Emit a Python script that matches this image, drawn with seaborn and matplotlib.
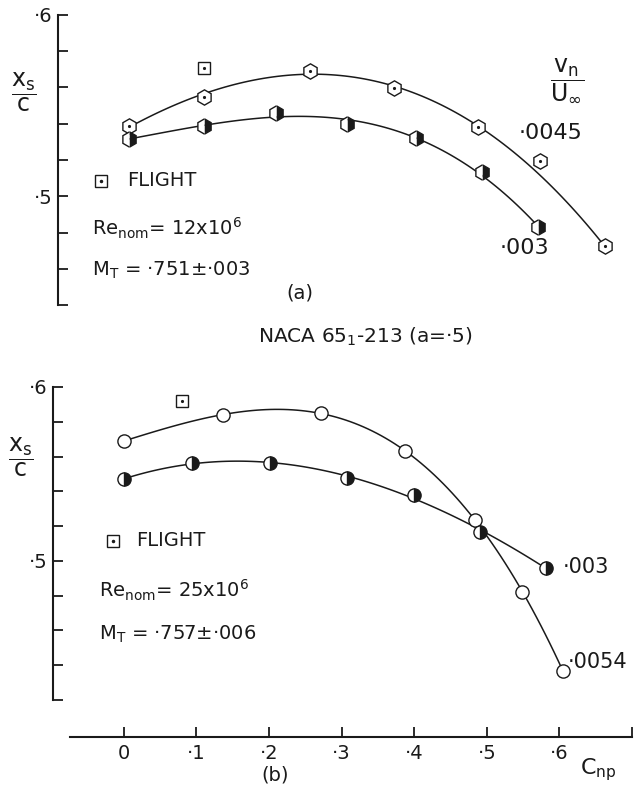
import matplotlib
matplotlib.use("Agg")
import matplotlib.pyplot as plt
import seaborn as sns
import pandas as pd

sns.set_theme(style="white")
plt.rcParams['font.family'] = ['DejaVu Sans']
plt.rcParams['mathtext.default'] = 'regular'
plt.rcParams['text.color'] = 'k'
plt.rcParams['xtick.color'] = 'k'
plt.rcParams['ytick.color'] = 'k'

# panel (a): x_s/c against C_np
a_x_045 = [0.0, 0.103, 0.249, 0.365, 0.481, 0.567, 0.656]
a_y_045 = [0.5387, 0.5547, 0.5690, 0.5597, 0.5380, 0.5193, 0.4724]
a_on_curve_045 = [True, True, True, False, True, False, True]
a_x_003 = [0.0, 0.103, 0.203, 0.300, 0.396, 0.486, 0.563]
a_y_003 = [0.5315, 0.5387, 0.5459, 0.5398, 0.5320, 0.5133, 0.4829]
a_flight_x = [0.103]
a_flight_y = [0.5707]

# panel (b)
b_x_054 = [0.0, 0.136, 0.272, 0.387, 0.484, 0.549, 0.605]
b_y_054 = [0.5690, 0.5839, 0.5850, 0.5632, 0.5235, 0.4820, 0.4367]
b_x_003 = [0.0, 0.094, 0.201, 0.307, 0.400, 0.490, 0.582]
b_y_003 = [0.5470, 0.5563, 0.5563, 0.5477, 0.5379, 0.5166, 0.4959]
b_flight_x = [0.080]
b_flight_y = [0.592]

x_ticks = [0, 0.1, 0.2, 0.3, 0.4, 0.5, 0.6, 0.7]
x_ticklabels = ["0", "·1", "·2", "·3", "·4", "·5", "·6", ""]

W, H = 642, 790
fig = plt.figure(figsize=(6.42, 7.90), dpi=100)
fig.patch.set_facecolor("white")

def fx(px):
    return px / W

def fy(py):
    return 1 - py / H

xlim = (-0.0977, 0.7)
ax1 = fig.add_axes([fx(58), fy(305), 579 / W, 290 / H])
ax2 = fig.add_axes([fx(53), fy(700), 579 / W, 313 / H])

mk = dict(linestyle="", markersize=9.5, mec="k", mew=1.0, legend=False)
dot = dict(marker=".", markersize=3, linestyle="", color="k", mec="k", legend=False)

def fit(ax, x, y, order):
    sns.regplot(x=x, y=y, order=order, ci=None, scatter=False, truncate=True,
                color="k", line_kws=dict(lw=1.1), ax=ax)

def style_axis(ax, ylo):
    ax.set_facecolor("none")
    ax.set_xlim(*xlim)
    ax.set_ylim(ylo, 0.6)
    for s in ["top", "right"]:
        ax.spines[s].set_visible(False)
    ax.spines["left"].set_linewidth(1.5)
    ax.spines["left"].set_color("k")
    ax.set_yticks([0.5, 0.6])
    ax.set_yticklabels(["·5", "·6"], fontsize=14)
    ax.set_yticks([v / 100 for v in range(int(round(ylo * 100)), 61, 2)], minor=True)
    ax.tick_params(axis="y", which="both", direction="in", length=7, width=1.3,
                   color="k", pad=4, left=True)
    ax.set_xlabel("")
    ax.set_ylabel("")

# ---- panel (a)
df = pd.DataFrame({"x": a_x_045, "y": a_y_045, "on": a_on_curve_045})
fit(ax1, df[df.on].x, df[df.on].y, 3)
fit(ax1, a_x_003, a_y_003, 3)
sns.lineplot(x=a_x_045, y=a_y_045, marker="h", mfc="white", ax=ax1, **dict(mk, markersize=11))
sns.lineplot(x=a_x_045, y=a_y_045, ax=ax1, **dot)
sns.lineplot(x=a_x_003, y=a_y_003, marker="h", mfc="k", fillstyle="right", mfcalt="white",
             ax=ax1, **dict(mk, markersize=11))
sns.lineplot(x=a_flight_x, y=a_flight_y, marker="s", mfc="white", ax=ax1, **dict(mk, markersize=8.5))
sns.lineplot(x=a_flight_x, y=a_flight_y, ax=ax1, **dot)
style_axis(ax1, 0.44)
ax1.spines["bottom"].set_visible(False)
ax1.set_xticks([])

# ---- panel (b)
fit(ax2, b_x_054, b_y_054, 3)
fit(ax2, b_x_003, b_y_003, 3)
sns.lineplot(x=b_x_054, y=b_y_054, marker="o", mfc="white", ax=ax2, **mk)
sns.lineplot(x=b_x_003, y=b_y_003, marker="o", mfc="k", fillstyle="right", mfcalt="white", ax=ax2, **mk)
sns.lineplot(x=b_flight_x, y=b_flight_y, marker="s", mfc="white", ax=ax2, **dict(mk, markersize=8.5))
sns.lineplot(x=b_flight_x, y=b_flight_y, ax=ax2, **dot)
style_axis(ax2, 0.42)
ax2.spines["bottom"].set_position(("outward", 26.6))
ax2.spines["bottom"].set_bounds(-0.074, 0.7)
ax2.spines["bottom"].set_linewidth(1.5)
ax2.spines["bottom"].set_color("k")
ax2.set_xticks(x_ticks)
ax2.set_xticklabels(x_ticklabels, fontsize=14)
ax2.tick_params(axis="x", direction="in", length=7, width=1.3, color="k", pad=5, bottom=True)

# ---- annotations
fs = 14
ylab = r"$\dfrac{x_s}{c}$"
fig.text(fx(24), fy(92), ylab, fontsize=17, ha="center", va="center")
fig.text(fx(21), fy(457), ylab, fontsize=17, ha="center", va="center")

for (mx, my, tx) in [(101, 181, 127), (113, 541, 136)]:
    fig.lines.append(plt.Line2D([fx(mx)], [fy(my)], marker="s", markersize=8, mfc="white",
                                mec="k", mew=1.0, transform=fig.transFigure))
    fig.lines.append(plt.Line2D([fx(mx)], [fy(my)], marker=".", markersize=3, color="k",
                                transform=fig.transFigure))
    fig.text(fx(tx), fy(my), "FLIGHT", fontsize=14, ha="left", va="center")

fig.text(fx(92), fy(228), r"Re$_{nom}$= 12x10$^6$", fontsize=fs, ha="left", va="center")
fig.text(fx(92), fy(270), r"M$_T$ = ·751±·003", fontsize=fs, ha="left", va="center")
fig.text(fx(300), fy(293), "(a)", fontsize=fs, ha="center", va="center")
fig.text(fx(567), fy(80), r"$\dfrac{v_n}{U_\infty}$", fontsize=17, ha="center", va="center")
fig.text(fx(519), fy(133), "·0045", fontsize=fs + 2, ha="left", va="center")
fig.text(fx(500), fy(248), "·003", fontsize=fs + 2, ha="left", va="center")

fig.text(fx(365), fy(337), r"NACA 65$_1$-213 (a=·5)", fontsize=14.5, ha="center", va="center")
fig.text(fx(99), fy(590), r"Re$_{nom}$= 25x10$^6$", fontsize=fs, ha="left", va="center")
fig.text(fx(99), fy(634), r"M$_T$ = ·757±·006", fontsize=fs, ha="left", va="center")
fig.text(fx(563), fy(567), "·003", fontsize=fs + 1, ha="left", va="center")
fig.text(fx(568), fy(662), "·0054", fontsize=fs + 1, ha="left", va="center")
fig.text(fx(275), fy(775), "(b)", fontsize=fs, ha="center", va="center")
fig.text(fx(580), fy(770), r"C$_{np}$", fontsize=fs + 2, ha="left", va="center")

fig.savefig("out.png", dpi=100, facecolor="white")
